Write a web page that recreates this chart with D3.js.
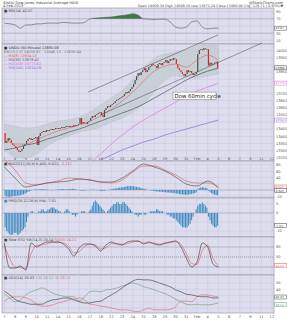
<!DOCTYPE html>
<html>
<head>
<meta charset="utf-8">
<script src="https://cdn.jsdelivr.net/npm/d3@7"></script>
<style>
  body { margin: 0; background: #fff; }
  svg { display: block; font-family: "DejaVu Sans", sans-serif; }
</style>
</head>
<body>
<div id="chart"></div>
<script>
const width = 287;
const height = 320;

//////////////////////////////////////
/////////////// Data ////////////////
////////////////////////////////////

const dayLabels = ["7","8","9","10","11","14","15","16","17","18","22","23","24","25",
  "28","29","30","31","Feb","4","5","6","7","8","11","12"];

// hourly closes, 7 bars a day, 7 Jan - 4 Feb 2013
const firstOpen = 13423;
const closes = [
  13353,13367,13388,13374,13353,13339,13332,
  13318,13304,13290,13297,13311,13332,13346,
  13367,13381,13388,13374,13381,13388,13395,
  13339,13402,13423,13430,13437,13430,13444,
  13437,13444,13451,13444,13451,13458,13458,
  13451,13458,13465,13458,13465,13472,13472,
  13465,13472,13465,13479,13472,13479,13486,
  13528,13486,13500,13493,13486,13500,13507,
  13528,13542,13535,13549,13556,13563,13570,
  13549,13535,13584,13598,13612,13605,13619,
  13626,13633,13647,13654,13661,13668,13675,
  13682,13696,13710,13703,13717,13731,13745,
  13766,13794,13822,13843,13829,13850,13864,
  13878,13850,13864,13885,13892,13906,13899,
  13892,13878,13906,13913,13899,13913,13920,
  13934,13913,13927,13941,13934,13948,13941,
  13906,13878,13864,13850,13836,13822,13836,
  13864,13850,13857,13843,13829,13836,13850,
  13976,14004,14011,14004,14018,14011,14011,
  13895,13916,13902,13909,13916,13923,13880
];

// overlays, one value per day start
const bbUpper = [13486,13472,13458,13465,13486,13507,13514,13535,13570,13619,13668,
  13724,13794,13878,13948,13976,13990,14004,14032,14039,14039];
const bbLower = [13304,13255,13248,13276,13332,13374,13402,13430,13444,13465,13500,
  13528,13570,13626,13710,13794,13822,13815,13808,13822,13836];
const maFast = [13388,13346,13346,13374,13409,13437,13458,13479,13507,13542,13591,
  13647,13710,13787,13857,13892,13906,13885,13934,13969,13934];
const ma50 = [13304,13318,13339,13353,13381,13402,13430,13451,13479,13507,13535,
  13563,13591,13626,13668,13710,13752,13794,13829,13857,13878];
const ma100 = [null,null,null,null,null,null,null,null,13213,13276,13346,
  13409,13465,13514,13556,13598,13640,13682,13717,13745,13773];
const ma200 = [null,null,null,null,null,null,null,null,null,13234,13269,
  13304,13332,13360,13381,13409,13430,13451,13472,13493,13514];

// hand drawn trend lines: [bar, price]
const upperTrend = [[54.7, 13710], [139.7, 14110]];
const lowerTrend = [[62.5, 13549], [168.5, 14054]];
const noteText = "Dow 60min cycle";

// indicators, one value per half day
const rsi = [58,56,53,44,53,53,56,56,58,58,58,60,59,58,58,60,70,72,73,74,75,77,79,81,
  84,80,70,69,68,69,69,61,47,44,47,61,64,47,42,44,44];
const stoK = [92,17,17,23,11,92,80,89,95,95,95,89,74,53,77,89,89,83,68,86,95,89,86,95,
  98,98,89,95,89,86,92,95,98,80,47,20,35,92,80,29,20];
const stoD = [85,45,20,18,16,60,85,86,90,94,94,92,82,62,66,82,88,86,74,78,90,90,88,90,
  95,97,92,92,92,88,90,93,96,88,60,30,28,70,85,45,24];
const adx = [37,31,24,20,18,16,16,16,20,23,24,26,26,23,20,18,18,20,21,26,31,36,42,48,
  53,56,55,55,53,50,47,44,39,36,32,31,29,28,28,26,26];
const plusDI = [33,26,20,23,31,36,39,42,39,34,31,29,28,28,21,28,36,37,36,39,40,42,45,48,
  50,48,44,42,39,36,33,29,24,20,16,15,16,15,15,16,18];
const minusDI = [21,26,28,28,26,23,16,13,13,15,18,20,23,24,26,23,16,15,13,12,10,8,7,7,
  5,4,7,10,7,7,7,8,12,21,21,20,28,31,31,29,28];

// MACD lines, one value per day start
const macd = [73.6,38.4,9.6,16,22.4,25.6,28.8,35.2,32,25.6,25.6,38.4,60.8,83.2,73.6,
  60.8,41.6,19.2,12.8,28.8,6.4];
const macdSignal = [96,64,22.4,16,22.4,28.8,38.4,35.2,32,25.6,22.4,32,57.6,76.8,76.8,
  64,48,28.8,22.4,22.4,9.6];

// histograms, one value per bar
const macdHist = [
  -18,-20,-22,-22,-21,-20,-19, -19,-18,-18,-17,-16,-14,-12, -9,-6,-4,-2,0,1,2,
  1,2,2,3,2,2,1, 1,0,-1,-1,0,1,1, 2,2,3,3,2,2,2, 3,3,4,3,2,1,0,
  -1,-2,-2,-1,-1,0,0, 0,1,1,0,-1,-1,-2, -3,-3,-2,-1,0,1,2, 3,4,5,6,7,8,8,
  9,10,11,12,12,13,12, 12,11,10,9,8,6,5, 4,2,1,0,-1,-2,-3, -4,-4,-5,-5,-6,-6,-7,
  -7,-8,-8,-9,-9,-10,-10, -11,-12,-13,-14,-14,-15,-15, -15,-14,-14,-13,-12,-10,-8,
  2,6,8,9,8,7,6, -2,-6,-10,-13,-15,-16,-17
];
const pmoHist = [
  -8,-10,-11,-12,-12,-12,-11, -11,-12,-12,-11,-10,-9,-8, -5,-2,0,1,1,0,0,
  0,1,1,2,2,1,1, 2,2,3,3,3,2,2, 1,1,0,0,1,2,2, 1,0,-1,-1,-2,-1,0,
  0,1,1,1,0,0,1, 2,4,6,7,6,5,4, 3,2,1,0,1,2,3, 4,5,5,6,6,5,5,
  6,6,5,4,3,2,1, 0,-1,-1,-2,-1,-1,0, -1,-1,0,0,1,1,1, 1,2,2,1,1,1,0,
  0,-1,-1,-2,-2,-3,-3, -4,-5,-6,-7,-8,-8,-8, -8,-7,-6,-4,-2,0,2,
  4,5,5,6,5,4,3, -2,-4,-6,-7,-8,-8,-7
];

const rsiTicks = [90,70,50,30,10];
const priceTicks = d3.range(13250, 14051, 50);
const macdTicks = [80,60,40,20,0,-20];
const histTicks = [5,0,-5,-10];
const stoTicks = [80,50,20];
const adxTicks = [50,40,30,20,10];

///////////////////////////////////////////
/////////////// Layout  ///////////////////
///////////////////////////////////////////

const left = 2, right = 274;
const panels = {
  rsi:   [8, 44],
  price: [44, 161],
  macd:  [161, 198],
  hist:  [198, 237],
  sto:   [237, 275],
  adx:   [275, 313]
};

const barW = 10.7 / 7;
const x = d3.scaleLinear().domain([0, 177]).range([4.4, 4.4 + 177 * barW]);
const yRsi = d3.scaleLinear().domain([0, 100]).range([44, 8]);
const yPrice = d3.scaleLinear().domain([13227, 14047]).range([161, 44]);
const yMacd = d3.scaleLinear().domain([-25.6, 92.8]).range([198, 161]);
const yHist = d3.scaleLinear().domain([-13.33, 8.33]).range([237, 198]);
const ySto = d3.scaleLinear().domain([-3.9, 109.9]).range([275, 237]);
const yAdx = d3.scaleLinear().domain([2, 62.8]).range([313, 275]);

const svg = d3.select("#chart").append("svg")
  .attr("width", width)
  .attr("height", height);

const bg = "#dddded", grid = "#c6c6dc", txt = "#555";

Object.values(panels).forEach(([t, b]) => {
  svg.append("rect").attr("x", left).attr("y", t).attr("width", right - left).attr("height", b - t)
    .attr("fill", bg).attr("stroke", "#8c8c9c").attr("stroke-width", 0.6);
});

const clip = (name, [t, b]) => {
  svg.append("clipPath").attr("id", name)
    .append("rect").attr("x", left).attr("y", t).attr("width", right - left).attr("height", b - t);
  return `url(#${name})`;
};

// boxed last values on the right axis (positions used to keep tick labels clear)
const boxes = [
  [yRsi(rsi[rsi.length - 1]), "43.97", "#444"],
  [yPrice(closes[closes.length - 1]), "13880", "#333"],
  [yPrice(ma100[20]), "13774", "#e060e0"],
  [yPrice(ma200[20]), "13514", "#8a6ad8"],
  [yMacd(macdSignal[20]), "9.622", "#e05050"],
  [yMacd(macd[20]) + 2.6, "6.405", "#444"],
  [yHist(pmoHist[pmoHist.length - 1]), "-7.01", "#444"],
  [ySto(stoD[40]), "24.11", "#e05050"],
  [yAdx(adx[40]) - 1, "26.03", "#444"],
  [yAdx(plusDI[40]) + 1.5, "18.12", "#6a9a72"]
];
const nearBox = yy => boxes.some(b => Math.abs(b[0] - yy) < 4);

// vertical day grid and date labels
const dayX = dayLabels.map((d, i) => x(i * 7));
Object.entries(panels).forEach(([k, [t, b]]) => {
  svg.append("g").selectAll("line").data(dayX).join("line")
    .attr("x1", d => d).attr("x2", d => d).attr("y1", t).attr("y2", b)
    .attr("stroke", grid).attr("stroke-width", 0.5);
});
[159.5, 317.5].forEach(yy => {
  svg.append("g").selectAll("text").data(dayLabels).join("text")
    .attr("x", (d, i) => dayX[i]).attr("y", yy)
    .attr("text-anchor", "middle").attr("font-size", 3.6).attr("fill", txt)
    .text(d => d);
});

const hGrid = (scale, ticks, strong) => {
  svg.append("g").selectAll("line").data(ticks).join("line")
    .attr("x1", left).attr("x2", right)
    .attr("y1", d => scale(d)).attr("y2", d => scale(d))
    .attr("stroke", d => strong && strong.includes(d) ? "#8f8fa8" : grid)
    .attr("stroke-width", 0.5);
  svg.append("g").selectAll("text").data(ticks.filter(d => !nearBox(scale(d)))).join("text")
    .attr("x", right + 2).attr("y", d => scale(d) + 1.3)
    .attr("font-size", 3.6).attr("fill", txt)
    .text(d => d);
};
hGrid(yRsi, rsiTicks, [70, 30]);
hGrid(yPrice, priceTicks.filter(d => yPrice(d) > 46 && yPrice(d) < 158));
hGrid(yMacd, macdTicks.filter(d => yMacd(d) > 163 && yMacd(d) < 197), [0]);
hGrid(yHist, histTicks, [0]);
hGrid(ySto, stoTicks, [80, 20]);
hGrid(yAdx, adxTicks);

// stochastic 50 line dotted
svg.append("line").attr("x1", left).attr("x2", right)
  .attr("y1", ySto(50)).attr("y2", ySto(50))
  .attr("stroke", "#777").attr("stroke-width", 0.5).attr("stroke-dasharray", "1,1");

///////////////////////////////////////////
/////////////// Lines  ////////////////////
///////////////////////////////////////////

const dayLine = (scale) => d3.line()
  .defined(d => d != null)
  .x((d, i) => x(i * 7))
  .y(d => scale(d))
  .curve(d3.curveMonotoneX);
const halfLine = (scale) => d3.line()
  .x((d, i) => x(i * 3.5))
  .y(d => scale(d))
  .curve(d3.curveMonotoneX);

// RSI
const rsiClip = clip("c-rsi", panels.rsi);
const rsiArea = d3.area()
  .x((d, i) => x(i * 3.5))
  .y0(yRsi(70))
  .y1(d => yRsi(Math.max(d, 70)))
  .curve(d3.curveMonotoneX);
svg.append("path").datum(rsi).attr("d", rsiArea).attr("fill", "#3d7a45").attr("clip-path", rsiClip);
svg.append("path").datum(rsi).attr("d", halfLine(yRsi))
  .attr("fill", "none").attr("stroke", "#555").attr("stroke-width", 0.6).attr("clip-path", rsiClip);

// Price panel
const priceClip = clip("c-price", panels.price);
const bandArea = d3.area()
  .x((d, i) => x(i * 7))
  .y0((d, i) => yPrice(bbLower[i]))
  .y1(d => yPrice(d))
  .curve(d3.curveMonotoneX);
svg.append("path").datum(bbUpper).attr("d", bandArea)
  .attr("fill", "#c4ccd2").attr("fill-opacity", 0.85).attr("stroke", "#b4bcc4").attr("stroke-width", 0.4)
  .attr("clip-path", priceClip);

[[ma200, "#8a6ad8"], [ma100, "#ee6ee6"], [ma50, "#555"]].forEach(([data, c]) => {
  svg.append("path").datum(data).attr("d", dayLine(yPrice))
    .attr("fill", "none").attr("stroke", c).attr("stroke-width", 0.7).attr("clip-path", priceClip);
});

// candles
const candles = closes.map((c, i) => ({ i, open: i ? closes[i - 1] : firstOpen, close: c }));
svg.append("g").attr("clip-path", priceClip)
  .selectAll("rect").data(candles).join("rect")
  .attr("x", d => x(d.i) + 0.15)
  .attr("width", barW - 0.35)
  .attr("y", d => yPrice(Math.max(d.open, d.close)))
  .attr("height", d => Math.max(0.8, Math.abs(yPrice(d.open) - yPrice(d.close))))
  .attr("fill", d => d.close < d.open ? "#d42424" : "#4a4a4a");

svg.append("path").datum(maFast).attr("d", dayLine(yPrice))
  .attr("fill", "none").attr("stroke", "#e26060").attr("stroke-width", 0.6).attr("clip-path", priceClip);

[upperTrend, lowerTrend].forEach(t => {
  svg.append("line")
    .attr("x1", x(t[0][0])).attr("y1", yPrice(t[0][1]))
    .attr("x2", x(t[1][0])).attr("y2", yPrice(t[1][1]))
    .attr("stroke", "#444").attr("stroke-width", 0.5);
});

// note box
const note = svg.append("g").attr("transform", `translate(${x(110.3)},${yPrice(13710)})`);
note.append("rect").attr("width", 43).attr("height", 7.5)
  .attr("fill", "#fff").attr("stroke", "#777").attr("stroke-width", 0.5);
note.append("text").attr("x", 1.5).attr("y", 5.6).attr("font-size", 5.4).attr("fill", "#222").text(noteText);

// MACD
const macdClip = clip("c-macd", panels.macd);
svg.append("g").attr("clip-path", macdClip)
  .selectAll("rect").data(macdHist).join("rect")
  .attr("x", (d, i) => x(i) + 0.2).attr("width", barW - 0.5)
  .attr("y", d => yMacd(Math.max(0, d)))
  .attr("height", d => Math.abs(yMacd(d) - yMacd(0)))
  .attr("fill", "#3b8ac2");
svg.append("path").datum(macdSignal).attr("d", dayLine(yMacd))
  .attr("fill", "none").attr("stroke", "#e05656").attr("stroke-width", 0.6).attr("clip-path", macdClip);
svg.append("path").datum(macd).attr("d", dayLine(yMacd))
  .attr("fill", "none").attr("stroke", "#444").attr("stroke-width", 0.6).attr("clip-path", macdClip);

// second histogram
svg.append("g").attr("clip-path", clip("c-hist", panels.hist))
  .selectAll("rect").data(pmoHist).join("rect")
  .attr("x", (d, i) => x(i) + 0.2).attr("width", barW - 0.5)
  .attr("y", d => yHist(Math.max(0, d)))
  .attr("height", d => Math.abs(yHist(d) - yHist(0)))
  .attr("fill", "#3b8ac2");

// stochastics
const stoClip = clip("c-sto", panels.sto);
[[stoD, "#e05656"], [stoK, "#333"]].forEach(([data, c]) => {
  svg.append("path").datum(data).attr("d", halfLine(ySto))
    .attr("fill", "none").attr("stroke", c).attr("stroke-width", 0.6).attr("clip-path", stoClip);
});

// ADX
const adxClip = clip("c-adx", panels.adx);
[[minusDI, "#d86a6a"], [plusDI, "#6a9a72"], [adx, "#333"]].forEach(([data, c]) => {
  svg.append("path").datum(data).attr("d", halfLine(yAdx))
    .attr("fill", "none").attr("stroke", c).attr("stroke-width", 0.6).attr("clip-path", adxClip);
});

///////////////////////////////////////////
/////////////// Texts  ////////////////////
///////////////////////////////////////////

const label = (xx, yy, s, c, size, anchor) => svg.append("text")
  .attr("x", xx).attr("y", yy).attr("font-size", size || 3.6)
  .attr("fill", c || txt).attr("text-anchor", anchor || "start").text(s);

label(3, 3.6, "$INDU Dow Jones Industrial Average INDX", "#444", 3.6);
label(3, 7.2, "4-Feb-2013", "#444", 3.6);
label(283, 3.6, "@StockCharts.com", "#444", 3.6, "end");
label(283, 7.2, "Open 14009.34 High 14009.34 Low 13871.24 Close 13880.08 Chg -129.71 (-0.93%)\u25BC", "#444", 3.4, "end");

const legend = (yy, parts) => {
  const t = svg.append("text").attr("x", 4).attr("y", yy).attr("font-size", 3.5);
  parts.forEach(([s, c]) => t.append("tspan").attr("fill", c).text(s));
};
legend(12, [["\u25A0 ", "#444"], ["RSI(14) 42.07", "#444"]]);
legend(48.5, [["\u25A0 ", "#333"], ["$INDU (60 Minute) 13880.08", "#333"]]);
legend(52.5, [["BB(20,2.0) 14039.82 - 13948.13 - 13836.44", "#777"]]);
legend(56.5, [["\u2014 MA(8) 13934.13", "#e05050"]]);
legend(60.5, [["\u2014 MA(50) 13878.41", "#555"]]);
legend(64.5, [["\u2014 MA(100) 13773.62", "#e060e0"]]);
legend(68.5, [["\u2014 MA(200) 13514.28", "#8a6ad8"]]);
legend(165, [["\u25A0 ", "#444"], ["MACD(12,26,9) 6.405, 9.622, ", "#444"], ["-3.217", "#e05050"]]);
legend(202, [["\u25A0 ", "#3b8ac2"], ["PMO(20,12,26,9) Hist -7.01", "#444"]]);
legend(241, [["\u25A0 ", "#444"], ["Slow STO %K(14,3) 20.14 ", "#444"], ["%D(3) 24.11", "#e05050"]]);
legend(279, [["\u25A0 ", "#444"], ["ADX(14) 26.03 ", "#444"], ["+DI 18.12 ", "#6a9a72"], ["-DI 28.22", "#d86a6a"]]);

boxes.forEach(([yy, s, c]) => {
  svg.append("rect").attr("x", right + 0.8).attr("y", yy - 2).attr("width", 11.6).attr("height", 4)
    .attr("fill", "#fff").attr("stroke", c).attr("stroke-width", 0.5);
  label(right + 1.5, yy + 1.1, s, c, 2.9);
});
</script>
</body>
</html>
